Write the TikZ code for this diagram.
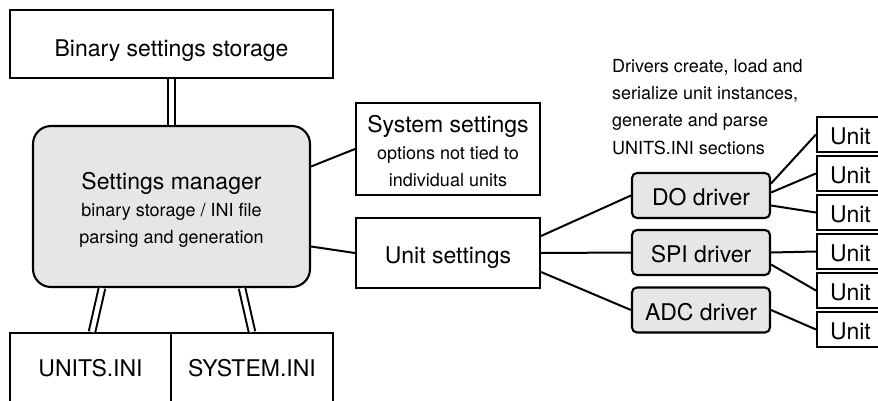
\documentclass[tikz,border=0pt]{standalone}
\usepackage{fontspec}
\setmainfont{TeX Gyre Heros}
\usetikzlibrary{calc}
\newcommand\bigf{\fontsize{23}{27.5}\selectfont}
\newcommand\smallf{\fontsize{18}{27.4}\selectfont}
\definecolor{boxgray}{HTML}{E6E6E6}
\tikzset{
  box/.style={draw=black, line width=2.1pt, inner sep=0pt, font=\bigf, text height=20pt, text depth=0pt},
  mgr/.style={box, fill=boxgray, rounded corners=18pt},
  drv/.style={box, fill=boxgray, rounded corners=5pt, minimum width=138pt, minimum height=45pt},
  unitbox/.style={box, text width=54pt, inner xsep=13pt, align=left, minimum height=35pt},
  conn/.style={draw=black, line width=2pt},
  dbl/.style={draw=black, line width=2pt, double=white, double distance=4.5pt},
}
\begin{document}
\begin{tikzpicture}[x=1pt,y=-1pt]
\useasboundingbox (0,0) rectangle (878,400);
\clip (0,0) rectangle (878,400);
\node[box, minimum width=323pt, minimum height=68pt, text height=24pt] (storage) at (171.5,44) {Binary settings storage};
\node[mgr, minimum width=277pt, minimum height=161pt, text depth=55pt] (manager) at (171.5,206.5)
  {\parbox[t]{270pt}{\centering{\bigf Settings manager\par}\smallf binary storage / INI file\par parsing and generation}};
\node[box, minimum width=161pt, minimum height=80pt, text depth=14pt] (unitsini) at (90.5,373) {UNITS.INI};
\node[box, minimum width=162pt, minimum height=80pt, text depth=14pt] (systemini) at (252,373) {SYSTEM.INI};
\node[box, minimum width=184pt, minimum height=92pt, text depth=54pt] (syss) at (448,149)
  {\parbox[t]{180pt}{\centering{\bigf System settings\par}\smallf options not tied to\par individual units}};
\node[box, minimum width=184pt, minimum height=70pt] (units) at (448,253) {Unit settings};
\node[drv] (do) at (701,195.5) {DO driver};
\node[drv] (spi) at (701,252.5) {SPI driver};
\node[drv] (adc) at (701,310) {ADC driver};
\node[anchor=base west, inner sep=0pt, font=\smallf] (note) at (612,72)
  {\parbox[t]{200pt}{\raggedright Drivers create, load and\par serialize unit instances,\par generate and parse\par UNITS.INI sections}};
\node[unitbox] (u1) at (857,134.5) {Unit};
\node[unitbox] (u2) at (857,173.5) {Unit};
\node[unitbox] (u3) at (857,212.5) {Unit};
\node[unitbox] (u4) at (857,251.5) {Unit};
\node[unitbox] (u5) at (857,290.5) {Unit};
\node[unitbox] (u6) at (857,329.5) {Unit};
% double connectors
\draw[dbl] (storage.south) -- (manager.north);
\draw[dbl] ($(manager.south)+(-69.5,0)$) -- ($(unitsini.north)+(1.5,0)$);
\draw[dbl] ($(manager.south)+(70.5,0)$) -- (systemini.north);
% single connectors
\draw[conn] ($(manager.east)+(0,-40)$) -- (syss.west);
\draw[conn] ($(manager.east)+(0,40)$) -- (units.west);
\draw[conn] ($(units.east)+(0,-17)$) -- (do.west);
\draw[conn] (units.east) -- (spi.west);
\draw[conn] ($(units.east)+(0,19)$) -- (adc.west);
\draw[conn] ($(do.east)+(0,-12)$) -- (u1.west);
\draw[conn] ($(do.east)+(0,-3)$) -- (u2.west);
\draw[conn] ($(do.east)+(0,10)$) -- (u3.west);
\draw[conn] (spi.east) -- (u4.west);
\draw[conn] ($(spi.east)+(0,12)$) -- (u5.west);
\draw[conn] (adc.east) -- (u6.west);
\end{tikzpicture}
\end{document}
